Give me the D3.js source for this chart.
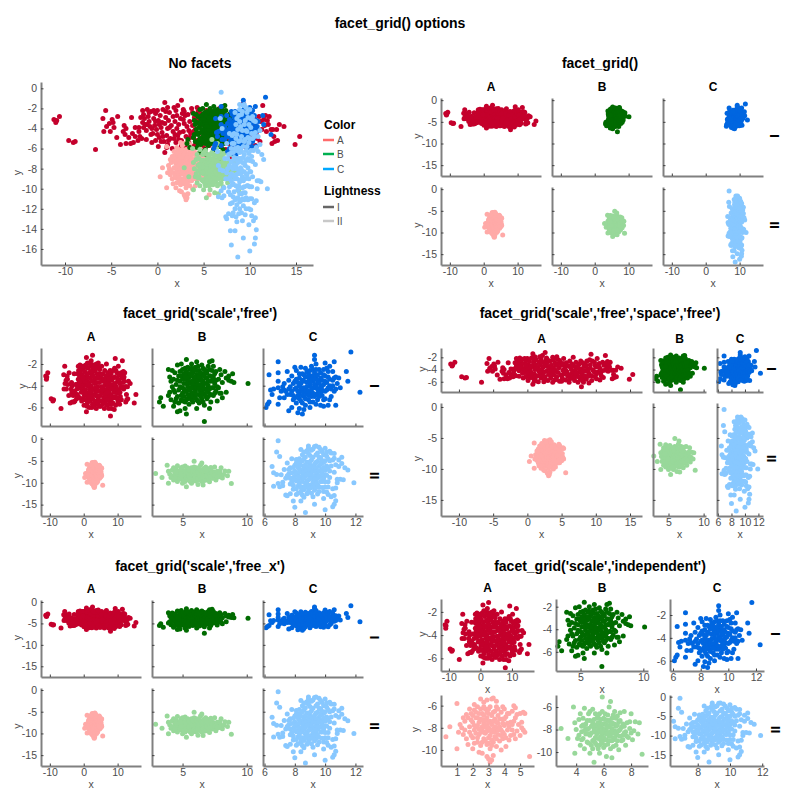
<!DOCTYPE html>
<html><head><meta charset="utf-8">
<script src="https://cdn.jsdelivr.net/npm/d3@7"></script>
<style>html,body{margin:0;background:#fff}svg{display:block}text{font-family:"Liberation Sans",Arial,sans-serif}</style>
</head><body><svg id="c" width="800" height="800"></svg>
<script>
const pointsAI=[[-11.2,-3.1],[-11,-3.4],[-10.9,-3.2],[-10.6,-2.8],[-9.6,-5.2],[-9.1,-5.4],[-8.9,-5.3],[-6.7,-6.1],[-5.9,-3],[-5.6,-2.2],[-5.8,-4.3],[-5.5,-3.8],[-5.2,-3.5],[-5.1,-4.3],[-4.9,-3.1],[-4.8,-3.4],[-4.7,-3.9],[-4.4,-4.9],[-4.3,-2.8],[-4,-5.6],[-3.7,-4.3],[-3.6,-3.7],[-3.5,-4.6],[-3.4,-4],[-3.4,-5.5],[-2.9,-5.5],[-2.8,-2.9],[-2.6,-5.4],[-2.7,-4.5],[-2.4,-4.8],[-2.1,-5.2],[-2,-4.3],[-2,-3.9],[-1.9,-4.8],[-1.7,-5],[-1.6,-3.4],[-1.6,-2.2],[-1.5,-2.6],[-1.4,-3],[-1.3,-3.6],[-1.2,-4.2],[-1.1,-2.1],[-1,-2.8],[-0.9,-3.3],[-0.8,-3.8],[-0.7,-2.3],[-0.6,-5.4],[-0.5,-4.5],[-0.4,-3],[-0.3,-3.7],[-0.2,-2.5],[-0.1,-4.1],[0,-2.2],[0.1,-5.8],[0.1,-3.2],[0.2,-4.9],[0.3,-2.7],[0.4,-3.9],[0.5,-4.4],[0.6,-2.1],[0.7,-5.3],[0.8,-1.4],[0.8,-3.5],[0.8,-6.4],[0.9,-2.9],[1,-4.7],[1.1,-5.6],[1.1,-4],[1.2,-3.2],[1.3,-2.4],[1.4,-5],[1.5,-3.7],[1.6,-6],[1.7,-4.3],[1.7,-2.8],[1.8,-1.9],[1.9,-3.3],[2,-5.4],[2,-2.2],[2.1,-4],[2.2,-4.7],[2.2,-1.7],[2.3,-3.6],[2.4,-6],[2.5,-3],[2.6,-5.2],[2.6,-1.2],[2.7,-2.5],[2.8,-4.3],[2.9,-3.5],[3,-5.8],[3,-2.7],[3.1,-4.8],[3.2,-3.8],[3.3,-2.6],[3.4,-5.4],[3.5,-3.3],[3.6,-4.5],[3.7,-2],[3.7,-6.1],[3.8,-3.7],[3.9,-4.9],[4,-2.9],[4,-5.7],[4.1,-4.1],[4.2,-3.3],[4.3,-5.2],[4.4,-2.3],[4.5,-4.5],[4.6,-3.7],[4.7,-5.9],[4.8,-2.9],[4.9,-4.9],[5,-3.3],[5.1,-5.4],[5.2,-4.1],[5.3,-2.2],[5.4,-4.7],[5.5,-3.6],[5.6,-5.7],[5.7,-2.9],[5.8,-4.4],[5.9,-5.1],[6,-3.4],[6.1,-6.1],[6.2,-2.6],[6.3,-4.8],[6.4,-3.9],[6.5,-5.4],[6.6,-4.4],[6.7,-2],[6.8,-3.4],[6.9,-5.8],[7,-4.1],[7.1,-2.8],[7.2,-5],[7.3,-3.7],[7.4,-6.1],[7.5,-4.5],[7.6,-3.1],[7.7,-5.5],[7.9,-6.8],[7.9,-3.9],[8,-4.8],[8.1,-2.9],[8.2,-5.2],[8.3,-3.5],[8.4,-4.2],[8.6,-5.6],[8.7,-2.6],[8.8,-3.9],[9,-4.6],[9.2,-3.2],[9.3,-1.5],[9.4,-5],[9.6,-4.1],[9.8,-2.8],[10,-3.6],[10.1,-5.5],[10.3,-4.4],[10.5,-3],[10.6,-3.8],[10.8,-5],[11,-2.8],[11.2,-3.3],[11.4,-1.7],[11.5,-3.1],[11.7,-2.7],[11.8,-4.3],[11.9,-3.2],[12.1,-2.8],[12.3,-4.1],[12.4,-5.5],[12.5,-4.1],[12.6,-4.8],[12.7,-5.3],[12.9,-4.1],[13,-5.2],[13.2,-3.6],[13.7,-3.8],[14.9,-5.6],[15.4,-4.8],[1.3,-3.9],[2.4,-4.4],[3.4,-4.2],[0.5,-3.4],[4.4,-3.1],[1.9,-4.6],[2.8,-3.1],[5.4,-4.4],[6.3,-3.6],[0.2,-3.6],[2.3,-5.1],[3.9,-4.3],[-0.6,-4],[6.7,-4.7],[7.7,-4.2],[8.8,-4.3],[9.8,-4.4],
[-1.8,-2.9],[-1.5,-3.9],[-1.1,-3.6],[-0.9,-2.4],[-0.7,-4.6],[-0.4,-2.2],[-0.2,-3.3],[0,-4.6],[0.6,-4.8],[0.9,-2.3],[1.2,-5.2],[1.8,-5],[2.1,-2.7],[2.8,-2.1],[3.5,-4.9],[3.8,-2.4],[4.2,-5.6],[4.7,-2.5],[5.2,-3],[5.6,-4.1],[6.2,-5.5],[6.5,-3.1],[6.6,-5.1],[7.1,-4.6],[7.4,-3.4],[7.5,-5.2],[7.8,-2.6],[8.1,-4.3],[8.4,-5],[8.6,-3.3],[8.9,-5.1],[9.2,-3.8],[9.5,-2.6],[9.9,-3.3],[10.1,-4.7],[10.4,-3.5],[10.9,-4.2],[11.3,-4.1],[-2.4,-3.9],[-3.1,-4.9],[-0.2,-5.2],[1,-5.9],[2.6,-5.7],[5,-5.9],[6.9,-5.3],[8,-5.7],[-1.2,-5.1],[0.4,-5.3],[2.9,-2.3],[1.1,-1.9],[4.3,-1.9],[9.1,-2.4],[9.9,-5.2],[10.2,-2.2],[10.7,-4.6],[11.1,-5.3],[11.6,-3.7],[12,-3.6],[9.4,-5.8],[10.6,-5.7],[8.2,-6.1],[9,-6.2]];
const pointsAII=[[0.3,-8.8],[0.55,-7.9],[1,-5.8],[1,-9.9],[1.1,-8.4],[1.2,-7.7],[1.3,-8],[1.4,-8.6],[1.5,-7.4],[1.6,-9],[1.7,-7.1],[1.7,-9.5],[1.8,-7.9],[1.8,-8.4],[1.9,-6.7],[2,-9.9],[2,-7.5],[2,-8.9],[2.1,-6.4],[2.1,-8.2],[2.2,-7.1],[2.3,-9.3],[2.3,-7.8],[2.3,-6.1],[2.4,-8.6],[2.4,-10.2],[2.5,-5.4],[2.5,-7.2],[2.5,-9.6],[2.6,-6.7],[2.6,-8.1],[2.6,-10.3],[2.7,-7.6],[2.7,-9],[2.8,-6.3],[2.8,-8.5],[2.9,-5.5],[2.9,-7.1],[2.9,-9.5],[2.9,-10.6],[3,-10.8],[3,-6.7],[3,-8],[3,-8.9],[3.1,-11.1],[3.1,-7.4],[3.1,-6.1],[3.1,-9.9],[3.2,-5.4],[3.2,-10.9],[3.2,-8.4],[3.2,-7.7],[3.3,-5.3],[3.3,-10.5],[3.3,-6.6],[3.3,-9.3],[3.4,-7.2],[3.4,-8.8],[3.5,-6.1],[3.5,-8],[3.5,-9.7],[3.6,-6.9],[3.6,-7.6],[3.6,-8.6],[3.7,-9.2],[3.8,-6.6],[3.8,-8.2],[3.8,-10],[3.9,-7.2],[3.9,-9],[4,-6.3],[4,-7.8],[4,-8.6],[4.1,-9.7],[4.1,-7],[4.2,-8.2],[4.3,-6.7],[4.3,-9.1],[4.4,-7.5],[4.4,-8.7],[4.5,-6.5],[4.5,-8.2],[4.6,-6],[4.6,-7.4],[4.7,-9],[4.8,-6.8],[4.8,-8.3],[4.9,-7.7],[5,-6.7],[5,-8.7],[5.1,-7.5],[5.1,-8],[5.2,-6.6],[5.2,-8.2],[5.3,-6.7],[5.3,-8.4],[5.6,-10.6],[2.6,-7.9],[2.2,-8.5],[3.4,-7.9],[2.9,-7.8],[2.4,-7.5],[3.2,-9.1],[1.5,-8.2],[4.2,-7.6],
[1.6,-6.8],[1.8,-6.3],[1.9,-7.3],[1.9,-8.7],[2,-6.9],[2.1,-7.8],[2.1,-9.4],[2.2,-6.6],[2.2,-7.9],[2.3,-7.1],[2.3,-8.9],[2.4,-6.7],[2.4,-8.1],[2.5,-6.3],[2.5,-8.4],[2.6,-7.3],[2.6,-9.3],[2.7,-6.1],[2.7,-8.4],[2.7,-6.9],[2.8,-7.3],[2.8,-9.2],[2.8,-7.9],[2.9,-6.6],[2.9,-8.3],[3,-7.5],[3,-9.4],[3,-6.3],[3.1,-8.2],[3.1,-8.7],[3.2,-6.9],[3.2,-9.6],[3.3,-7.4],[3.3,-8.1],[3.4,-6.5],[3.4,-8.4],[3.5,-7.5],[3.5,-9],[3.6,-8.2],[3.6,-6.3],[3.7,-7.2],[3.7,-7.9],[3.8,-8.7],[3.9,-7.6],[3.9,-8.4],[4,-7.2],[4.1,-8.9],[4.2,-6.7],[4.3,-7.9],[4.5,-7.7],[4.6,-8.6],[4.7,-7.1],[3.9,-6.1],[1.4,-7.1],[2.7,-5.7],[3.5,-5.6],[2.1,-5.9],[4.7,-6.2]];
const pointsBI=[[3.2,-5.5],[3.3,-5.1],[3.5,-5.9],[3.9,-4.9],[3.9,-2.5],[4,-3.2],[4.1,-5.3],[4.2,-4.1],[4.2,-2.6],[4.3,-5.9],[4.3,-3.4],[4.4,-4.6],[4.4,-2.8],[4.5,-3.9],[4.5,-5.2],[4.6,-6.4],[4.6,-2.1],[4.7,-3.1],[4.7,-4.4],[4.7,-5.6],[4.8,-2.7],[4.8,-3.6],[4.8,-6.3],[4.9,-2],[4.9,-4.9],[5,-3.3],[5,-4.2],[5,-5.4],[5.1,-2.9],[5.1,-3.8],[5.1,-5],[5.2,-6.1],[5.2,-2.4],[5.2,-4.5],[5.3,-1.6],[5.3,-3.4],[5.3,-5.3],[5.3,-6.6],[5.4,-2.9],[5.4,-4.1],[5.4,-4.8],[5.5,-3.7],[5.5,-5.7],[5.6,-2.5],[5.6,-3.1],[5.6,-4.4],[5.6,-5.1],[5.7,-2],[5.7,-3.6],[5.7,-4.7],[5.8,-2.8],[5.8,-4.1],[5.8,-5.5],[5.9,-3.3],[5.9,-5],[6,-2.3],[6,-3.9],[6,-4.5],[6.1,-1.8],[6.1,-3],[6.1,-5.3],[6.1,-6.1],[6.2,-3.5],[6.2,-4.2],[6.3,-2.6],[6.3,-4.8],[6.3,-5.6],[6.4,-3.2],[6.4,-3.9],[6.4,-4.5],[6.5,-2.1],[6.5,-5.2],[6.6,-2.9],[6.6,-3.6],[6.6,-4.1],[6.7,-7.3],[6.7,-2.5],[6.7,-4.8],[6.7,-5.8],[6.8,-3.3],[6.8,-4.3],[6.9,-2.8],[6.9,-3.8],[6.9,-5.2],[7,-2.2],[7,-4.6],[7.1,-1.8],[7.1,-3.1],[7.1,-6.1],[7.2,-3.6],[7.2,-5.5],[7.3,-1.7],[7.3,-2.6],[7.3,-4.2],[7.4,-3.2],[7.4,-4.9],[7.5,-3.8],[7.6,-2.7],[7.6,-4.5],[7.7,-5.4],[7.8,-3.4],[7.8,-4.2],[7.9,-2.5],[8,-4.7],[8,-3],[8.1,-3.7],[8.1,-5.1],[8.3,-2.7],[8.4,-4.6],[8.4,-3.3],[8.6,-3.5],[8.6,-3.1],[8.8,-3.6],[8.9,-2.9],[9,-3.7],[10.1,-3.8],[5.9,-4.2],[6.5,-4.6],[5.4,-3.5],[6.2,-3],[5.7,-5.3],
[4.8,-4.1],[4.9,-3.1],[4.9,-5.3],[5,-2.5],[5,-4.7],[5.1,-3.4],[5.1,-4.3],[5.2,-3.2],[5.2,-5.5],[5.3,-2.7],[5.3,-3.8],[5.3,-4.5],[5.4,-2.3],[5.4,-5.2],[5.5,-3.2],[5.5,-4.4],[5.5,-4.9],[5.6,-2.9],[5.6,-3.8],[5.7,-2.4],[5.7,-3.1],[5.7,-4.2],[5.8,-3.6],[5.8,-5],[5.9,-2.6],[5.9,-3.8],[5.9,-4.6],[6,-3.2],[6,-5.1],[6.1,-2.6],[6.1,-3.6],[6.1,-4.2],[6.1,-4.8],[6.2,-2.2],[6.2,-3.9],[6.2,-5.4],[6.3,-3.2],[6.3,-4.3],[6.4,-2.8],[6.4,-5],[6.5,-3.5],[6.5,-4.1],[6.6,-2.4],[6.6,-4.7],[6.6,-5.5],[6.7,-3.1],[6.7,-3.8],[6.7,-4.3],[6.8,-2.6],[6.8,-5],[6.9,-3.3],[6.9,-4.5],[7,-3.6],[7,-4],[7,-5],[7.1,-2.5],[7.1,-4.3],[7.2,-3.1],[7.2,-4.8],[7.3,-3.5],[7.4,-2.2],[7.4,-4.2],[7.5,-2.9],[7.5,-4.7],[7.6,-3.5],[7.7,-4.1],[4.4,-5.5],[4.6,-5],[4.3,-4.4],[4,-4.6],[4.1,-3.6],[4.6,-3.5],[7.9,-4.7]];
const pointsBII=[[2.9,-7.9],[3.4,-8.8],[3.8,-6],[3.9,-7.4],[3.9,-10.1],[4,-8],[4.1,-8.8],[4.2,-7.1],[4.2,-8.5],[4.3,-6.6],[4.3,-9.4],[4.4,-7.7],[4.4,-8.2],[4.5,-7],[4.5,-8.8],[4.6,-9.7],[4.6,-6.1],[4.7,-7.5],[4.7,-8.4],[4.8,-8],[4.9,-6.6],[4.9,-9.2],[5,-7.2],[5,-8.5],[5,-10.1],[5.1,-7.7],[5.2,-6.2],[5.2,-9],[5.2,-9.7],[5.3,-10.9],[5.3,-8.2],[5.3,-7.1],[5.4,-6.6],[5.4,-8.7],[5.5,-7.6],[5.5,-9.4],[5.6,-8.1],[5.6,-6.9],[5.7,-10.1],[5.7,-7.4],[5.8,-8.6],[5.8,-9],[5.9,-5.1],[5.9,-6.4],[5.9,-7.9],[6,-9.6],[6,-8.3],[6,-7],[6.1,-6.6],[6.1,-7.5],[6.1,-8.9],[6.2,-10.4],[6.2,-8.1],[6.3,-7.2],[6.3,-9.3],[6.4,-6],[6.4,-8.6],[6.4,-7.7],[6.5,-5.5],[6.5,-9.7],[6.5,-8.2],[6.6,-7],[6.6,-10.5],[6.7,-7.5],[6.7,-8.9],[6.8,-6.4],[6.8,-8.1],[6.9,-7.7],[6.9,-9.4],[7,-6.8],[7,-8.5],[7.1,-7.3],[7.1,-9.8],[7.2,-6.5],[7.2,-8],[7.3,-9],[7.4,-7.5],[7.4,-8.5],[7.5,-6.4],[7.6,-8.2],[7.6,-9.4],[7.7,-7.4],[7.8,-8.7],[7.9,-7.9],[8,-6.6],[8,-8.3],[8.1,-8.9],[8.2,-8.1],[8.3,-7.3],[8.5,-8.4],[8.6,-7.4],[8.8,-10.2],[5.6,-7.8],[6.2,-8.4],[5.3,-7.9],[6.6,-7.9],[5.9,-8.7],[4.7,-7.9],
[4.4,-8.9],[4.6,-8.1],[4.8,-7.2],[4.8,-9.1],[4.9,-7.9],[5,-6.4],[5.1,-8.3],[5.1,-9.4],[5.2,-7.4],[5.3,-8.9],[5.4,-7.6],[5.4,-9.2],[5.5,-8.4],[5.5,-7],[5.6,-8.8],[5.6,-7.4],[5.7,-8.2],[5.7,-6.6],[5.7,-9.4],[5.8,-7.7],[5.8,-7.1],[5.9,-8.2],[5.9,-9.2],[6,-7.5],[6,-8.7],[6.1,-8],[6.1,-7.1],[6.1,-9.4],[6.2,-7.6],[6.2,-8.9],[6.3,-6.7],[6.3,-8.3],[6.3,-7.8],[6.4,-7.2],[6.4,-9],[6.5,-7.5],[6.5,-8.6],[6.6,-8.2],[6.6,-9],[6.6,-7.4],[6.7,-6.7],[6.7,-8.3],[6.8,-7.5],[6.8,-8.7],[6.9,-7],[6.9,-8.3],[7,-7.6],[7,-9],[7.1,-8.1],[7.2,-7.2],[7.2,-8.6],[7.3,-7.8],[7.4,-8.9],[7.5,-7.7],[7.5,-8.3],[7.7,-8.6],[5.6,-9.7],[6.7,-9.5],[7.9,-7.3],[4.5,-7.6],[4.9,-8.4]];
const pointsCI=[[6.1,-6],[6.2,-5.7],[6.3,-5.5],[6.3,-3],[6.4,-4.4],[6.5,-4.8],[6.6,-4.3],[6.9,-1.8],[6.9,-2.8],[6.9,-3.6],[6.9,-5.7],[6.9,-4.2],[7,-5.1],[7.1,-4.5],[7.2,-4.1],[7.3,-3.8],[7.3,-5.1],[7.4,-4.5],[7.5,-2.7],[7.6,-3.5],[7.6,-6.3],[7.6,-4.3],[7.7,-4.8],[7.8,-6],[7.8,-3.1],[7.9,-3.8],[7.9,-5.3],[8,-4.3],[8,-2.3],[8.1,-5.6],[8.1,-3.4],[8.2,-4.9],[8.2,-6.5],[8.3,-2.9],[8.3,-4],[8.3,-6.1],[8.4,-4.5],[8.4,-5.4],[8.4,-2.3],[8.5,-3.5],[8.5,-6.6],[8.6,-5],[8.6,-3],[8.6,-4.2],[8.7,-5.8],[8.7,-2.4],[8.8,-3.7],[8.8,-4.7],[8.9,-5.3],[8.9,-2.9],[9,-4],[9,-3.3],[9,-6],[9.1,-2.2],[9.1,-4.5],[9.1,-5],[9.2,-3.6],[9.2,-5.5],[9.3,-1.2],[9.3,-1.6],[9.3,-2.8],[9.3,-4.2],[9.4,-3.2],[9.4,-4.8],[9.4,-2],[9.5,-3.8],[9.5,-5.3],[9.6,-2.5],[9.6,-4.4],[9.7,-3.3],[9.7,-5.8],[9.8,-4],[9.8,-4.9],[9.9,-3],[9.9,-5.9],[10,-1.9],[10,-3.6],[10,-5.2],[10.1,-2.4],[10.1,-4.4],[10.2,-3.2],[10.2,-5.8],[10.3,-4],[10.4,-5],[10.5,-3.5],[10.5,-2.7],[10.6,-1.8],[10.6,-4.5],[10.7,-3.2],[10.7,-5.8],[10.8,-3.8],[10.9,-3.3],[11,-4.2],[11.4,-2.7],[11.5,-3.6],[11.7,-0.9],[12.3,-4.6],[9,-4.7],[8.6,-4.6],[9.3,-3.9],[8.9,-3.6],[9.5,-4.7],[9.7,-4.1],[8.3,-4.8],[9.1,-3.1],
[7.7,-4.1],[7.8,-4.5],[7.9,-4.9],[8,-3.6],[8,-5.1],[8.1,-4.2],[8.2,-3.7],[8.2,-4.5],[8.3,-3.3],[8.3,-5.2],[8.4,-3.8],[8.4,-4.2],[8.5,-2.9],[8.5,-4.9],[8.5,-5.6],[8.6,-3.6],[8.7,-3.2],[8.7,-4.4],[8.7,-5.2],[8.8,-2.7],[8.8,-4.1],[8.9,-3.2],[8.9,-4.5],[8.9,-4.9],[9,-2.6],[9,-3.7],[9,-5.5],[9.1,-3.5],[9.1,-4.2],[9.2,-2.5],[9.2,-3.1],[9.2,-4.7],[9.3,-3.4],[9.3,-5],[9.4,-2.5],[9.4,-4.1],[9.5,-3],[9.5,-3.5],[9.5,-4.3],[9.6,-3.7],[9.6,-5],[9.7,-2.8],[9.7,-4.6],[9.8,-3.5],[9.8,-4.4],[9.9,-2.5],[9.9,-3.9],[9.9,-5.3],[10,-3.1],[10,-4.5],[10.1,-3.7],[10.2,-2.7],[10.2,-4.2],[10.3,-3.4],[10.3,-5.3],[10.4,-4.3],[10.5,-4],[10.6,-3.3],[10.7,-4.3],[7.5,-4.8],[7.3,-4.4],[8.1,-2.6],[8.6,-6.2],[9.4,-5.7],[10.3,-2.2]];
const pointsCII=[[6.9,-0.4],[6.8,-3],[7,-4],[6.5,-6.3],[6.6,-7.7],[6.6,-10.8],[6.8,-8.1],[6.9,-10.2],[7,-10.9],[7.1,-8.2],[7.2,-10.7],[7.3,-7],[7.4,-12.8],[7.4,-9],[7.5,-13],[7.5,-5.5],[7.6,-8],[7.7,-12.5],[7.7,-6.6],[7.7,-10.3],[7.8,-4.5],[7.9,-14.2],[7.9,-8.8],[7.9,-11.5],[8,-15.6],[8,-6],[8,-7.3],[8.1,-9.6],[8.1,-4.7],[8.1,-12.7],[8.2,-8],[8.2,-10.8],[8.3,-5.5],[8.3,-6.9],[8.4,-14.2],[8.4,-2.4],[8.4,-9],[8.4,-12],[8.5,-7.7],[8.5,-3.6],[8.5,-11],[8.6,-4.6],[8.6,-6.2],[8.6,-13.3],[8.7,-16.8],[8.7,-8.5],[8.7,-10.1],[8.8,-5.3],[8.8,-2.7],[8.8,-7],[8.8,-12.5],[8.9,-1.6],[8.9,-9.3],[8.9,-11.3],[9,-3.8],[9,-7.9],[9,-6],[9.1,-4.8],[9.1,-10.5],[9.2,-2.3],[9.2,-8.8],[9.2,-13.2],[9.3,-14.9],[9.3,-1.7],[9.3,-6.9],[9.3,-11.7],[9.4,-5.3],[9.4,-9.8],[9.5,-3.2],[9.5,-7.7],[9.5,-12.6],[9.6,-1.9],[9.6,-6.2],[9.6,-10.9],[9.7,-4.3],[9.7,-8.6],[9.8,-9.7],[9.8,-2.9],[9.8,-7],[9.9,-12],[9.9,-5.4],[9.9,-13.6],[10,-16.2],[10,-2.1],[10,-8.3],[10,-11],[10.1,-6.2],[10.1,-3.9],[10.2,-9.8],[10.2,-12.7],[10.3,-5],[10.3,-7.3],[10.4,-3.2],[10.4,-13.2],[10.5,-15.5],[10.5,-11.4],[10.6,-14.9],[10.6,-4.4],[10.7,-14.1],[10.7,-5.9],[10.8,-9.2],[10.8,-10],[10.9,-4.8],[11,-9.2],[11.1,-4.2],[11.1,-5.6],[11.2,-9.3],[11.3,-6.6],[11.5,-7.1],[11.9,-10],[9,-8.5],[8.6,-8],[9.4,-8.3],[9.2,-9.9],[8.9,-7.2],
[7.5,-8.4],[7.6,-7],[7.7,-9],[7.8,-7.7],[7.8,-9.8],[7.9,-6.5],[7.9,-10.6],[8,-8.5],[8,-9.2],[8.1,-5.5],[8.1,-7.9],[8.1,-11.4],[8.2,-6.4],[8.2,-9.5],[8.2,-12.4],[8.3,-4.5],[8.3,-7.6],[8.3,-8.7],[8.3,-10.3],[8.4,-6],[8.4,-7.1],[8.4,-11.1],[8.5,-5],[8.5,-8.6],[8.5,-9.7],[8.5,-12.8],[8.6,-3],[8.6,-7],[8.6,-9],[8.6,-11.6],[8.7,-5.9],[8.7,-7.4],[8.7,-10.9],[8.7,-4.1],[8.8,-8.1],[8.8,-9.7],[8.9,-3.3],[8.9,-6.4],[8.9,-10.5],[8.9,-12],[9,-5.2],[9,-7],[9,-9.1],[9,-11.2],[9.1,-2.6],[9.1,-6.3],[9.1,-8.1],[9.1,-12.4],[9.2,-4.2],[9.2,-7.4],[9.2,-11],[9.3,-5.8],[9.3,-9.2],[9.3,-10.4],[9.4,-3.6],[9.4,-6.6],[9.4,-7.5],[9.4,-11.1],[9.5,-5.1],[9.5,-9],[9.5,-10.4],[9.6,-4.2],[9.6,-7.2],[9.6,-8.5],[9.6,-12],[9.7,-2.4],[9.7,-5.8],[9.7,-9.7],[9.8,-4.9],[9.8,-7.9],[9.8,-11.1],[9.9,-3.6],[9.9,-6.5],[9.9,-9],[10,-5],[10,-7.2],[10,-9.8],[10.1,-3],[10.1,-8.3],[10.1,-12.1],[10.2,-4.5],[10.2,-6.8],[10.2,-11],[10.3,-8.8],[10.3,-2.8],[10.4,-6.2],[10.5,-4.8],[10.6,-3.3],[10.6,-7.6],[10.7,-11.2],[10.9,-6.3],[7.2,-9.9],[8.9,-2.1],[9.4,-1.6],[10.6,-12.9]];

const colNames=["A","B","C"];
const rowNames=["I","II"];
const xTicksAll=[-10,0,10];
const xTicksWide=[-10,-5,0,5,10,15];
const yTicksDarkFree=[-2,-4,-6];
const yTicksShared=[0,-5,-10,-15];
const legendColor=["A","B","C"];
const legendLight=["I","II"];
const groups=[
 [[pointsAI,pointsBI,pointsCI],["#c4002c","#006b00","#0066e0"]],
 [[pointsAII,pointsBII,pointsCII],["#ffaaa8","#98d89a","#88c8ff"]]
];
const svg=d3.select("#c");
const axisGrey="#808080", textGrey="#4d4d4d";

function text(s,x,y,size,opts={}){
  const t=svg.append("text").text(s).attr("x",x).attr("y",y).attr("font-size",size)
   .attr("text-anchor",opts.anchor||"middle").attr("dominant-baseline","central")
   .attr("font-weight",opts.bold?"bold":"normal").attr("fill",opts.fill||"#000");
  if(opts.rot) t.attr("transform",`rotate(${opts.rot} ${x} ${y})`);
  return t;
}
function panel(p){
  const x=d3.scaleLinear().domain(p.xlim).range([p.x0,p.x1]);
  const y=d3.scaleLinear().domain(p.ylim).range([p.y1,p.y0]);
  const g=svg.append("g");
  p.series.forEach(s=>{
    g.append("g").selectAll("circle").data(s.pts).join("circle")
     .attr("cx",d=>x(d[0])).attr("cy",d=>y(d[1])).attr("r",2.5).attr("fill",s.color);
  });
  const ax=d3.axisBottom(x).tickValues(p.xticks).tickSize(-2.5).tickPadding(3).tickSizeOuter(0);
  const ay=d3.axisLeft(y).tickValues(p.yticks).tickSize(-2.5).tickPadding(4).tickSizeOuter(0);
  [[ax,`translate(0,${p.y1})`,p.xlab],[ay,`translate(${p.x0},0)`,p.ylab]].forEach(([a,tr,lab])=>{
    const n=svg.append("g").attr("transform",tr).call(a);
    n.select(".domain").attr("stroke",axisGrey).attr("stroke-width",2);
    n.selectAll(".tick line").attr("stroke","#404040").attr("stroke-width",1);
    n.selectAll("text").attr("font-size",10.5).attr("fill",textGrey)
      .attr("font-family",'"Liberation Sans",Arial,sans-serif').text(d=>String(d));
    if(!lab) n.selectAll("text").remove();
  });
  if(p.xlab) text("x",(p.x0+p.x1)/2,p.y1+18,10.5,{fill:textGrey});
  if(p.ylab&&p.ylabX) text("y",p.ylabX,(p.y0+p.y1)/2-1,10.5,{fill:textGrey,rot:-90});
}
text("facet_grid() options",400,22.5,14,{bold:true});

// No facets
text("No facets",200,63,14,{bold:true});
panel({x0:41,x1:313,y0:82,y1:265,xlim:[-12.6,16.84],ylim:[-17.6,0.63],
  xticks:xTicksWide,yticks:d3.range(0,-17,-2),xlab:true,ylab:true,ylabX:17,
  series:[0,1,2].flatMap(c=>[0,1].map(r=>({pts:groups[r][0][c],color:groups[r][1][c]})))});
text("Color",324,125,12,{bold:true,anchor:"start"});
text("Lightness",324,191,12,{bold:true,anchor:"start"});
[["#ff6b6b",140],["#00b050",154],["#00a8ff",169]].forEach(([c,yy],i)=>{
  svg.append("line").attr("x1",323).attr("x2",334).attr("y1",yy).attr("y2",yy).attr("stroke",c).attr("stroke-width",2.5);
  text(legendColor[i],337,yy,10,{anchor:"start",fill:textGrey});
});
[["#666666",207],["#c8c8c8",221]].forEach(([c,yy],i)=>{
  svg.append("line").attr("x1",323).attr("x2",334).attr("y1",yy).attr("y2",yy).attr("stroke",c).attr("stroke-width",2.5);
  text(legendLight[i],337,yy,10,{anchor:"start",fill:textGrey});
});

function grid(g){
  text(g.title,g.tx,g.ty,14,{bold:true});
  g.cols.forEach((c,ci)=>{
    text(colNames[ci],(c.x0+c.x1)/2,g.cy,12,{bold:true});
    g.rows.forEach((r,ri)=>{
      const cell=g.cell?g.cell[ri][ci]:{};
      panel({x0:c.x0,x1:c.x1,y0:r.y0,y1:r.y1,
        xlim:cell.xlim||c.xlim,ylim:cell.ylim||r.ylim,
        xticks:cell.xticks||c.xticks,yticks:cell.yticks||r.yticks,
        xlab:g.indep||ri===1,ylab:g.indep||ci===0,
        ylabX:cell.ylabX!==undefined?cell.ylabX:r.ylabX,
        series:[{pts:groups[ri][0][ci],color:groups[ri][1][ci]}]});
    });
  });
  g.rows.forEach((r,ri)=>text(rowNames[ri],g.rx,(r.y0+r.y1)/2-1,13,{bold:true,rot:-90}));
}
// facet_grid()
grid({title:"facet_grid()",tx:600,ty:63,cy:87,rx:774,
 cols:[441,552,663].map(x0=>({x0,x1:x0+100,xlim:[-12.6,16.9],xticks:xTicksAll})),
 rows:[{y0:98,y1:176,ylim:[-17.5,0.5],yticks:yTicksShared,ylabX:417},{y0:187,y1:265,ylim:[-17.5,0.5],yticks:yTicksShared,ylabX:417}]});
// free
const colsFree=[{x0:41,x1:141,xlim:[-12.6,16.9],xticks:xTicksAll},{x0:152,x1:252,xlim:[2.62,10.41],xticks:[5,10]},{x0:263,x1:363,xlim:[5.9,12.5],xticks:[6,8,10,12]}];
grid({title:"facet_grid('scale','free')",tx:200,ty:313,cy:337,rx:374,cols:colsFree,
 rows:[{y0:348,y1:426,ylim:[-7.71,-0.53],yticks:yTicksDarkFree,ylabX:22},{y0:437,y1:516,ylim:[-17.6,0.45],yticks:yTicksShared,ylabX:17}]});
// free/free
grid({title:"facet_grid('scale','free','space','free')",tx:600,ty:313,cy:339,rx:771.5,
 cols:[{x0:441,x1:642,xlim:[-12.62,16.75],xticks:xTicksWide},{x0:653,x1:706,xlim:[2.79,10.34],xticks:[5,10]},{x0:717,x1:763,xlim:[5.85,12.68],xticks:[6,8,10,12]}],
 rows:[{y0:348,y1:392,ylim:[-7.68,-0.47],yticks:yTicksDarkFree,ylabX:422},{y0:403,y1:516,ylim:[-17.6,0.64],yticks:yTicksShared,ylabX:417}]});
// free_x
grid({title:"facet_grid('scale','free_x')",tx:200,ty:565.5,cy:589,rx:374,cols:colsFree,
 rows:[{y0:600,y1:677,ylim:[-17.5,0.46],yticks:yTicksShared,ylabX:17},{y0:688,y1:766,ylim:[-17.5,0.46],yticks:yTicksShared,ylabX:17}]});
// independent
grid({title:"facet_grid('scale','independent')",tx:600,ty:565.5,cy:588,rx:775.5,indep:true,
 cols:[{x0:441,x1:534},{x0:556,x1:648},{x0:670,x1:764}],
 rows:[{y0:599,y1:671},{y0:695,y1:766}],
 cell:[[{xlim:[-12.5,17],ylim:[-7.09,-0.89],xticks:xTicksAll,yticks:yTicksDarkFree,ylabX:422},
        {xlim:[3.05,10.37],ylim:[-7.7,-1.32],xticks:[5,10],yticks:yTicksDarkFree,ylabX:0},
        {xlim:[5.78,12.58],ylim:[-6.9,-0.6],xticks:[6,8,10,12],yticks:yTicksDarkFree,ylabX:0}],
       [{xlim:[-0.01,5.88],ylim:[-11.45,-5.04],xticks:[1,2,3,4,5],yticks:[-6,-8,-10],ylabX:415},
        {xlim:[2.53,9.23],ylim:[-11.24,-4.93],xticks:[4,6,8],yticks:[-6,-8,-10],ylabX:0},
        {xlim:[6.28,12.11],ylim:[-17.8,0.43],xticks:[8,10,12],yticks:yTicksShared,ylabX:0}]]});
</script></body></html>
